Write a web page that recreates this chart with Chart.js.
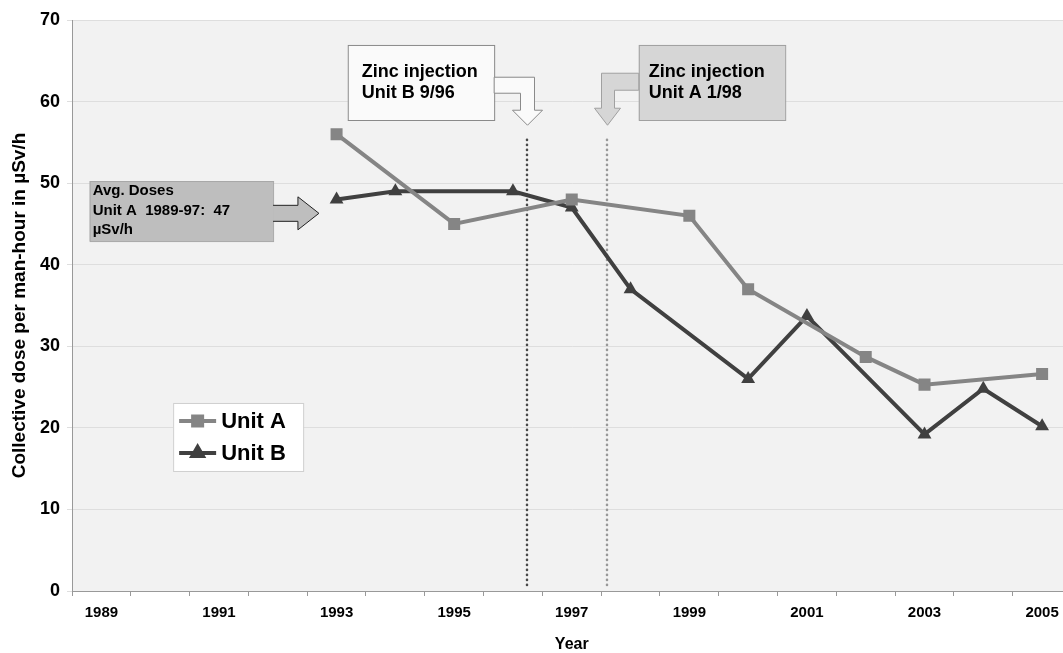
<!DOCTYPE html>
<html>
<head>
<meta charset="utf-8">
<script src="https://cdn.jsdelivr.net/npm/chart.js@4/dist/chart.umd.min.js"></script>
<style>
  html, body { margin: 0; padding: 0; background: #fff; overflow: hidden; width: 1063px; height: 653px; }
  canvas { display: block; }
</style>
</head>
<body>
<canvas id="c" width="1080" height="653"></canvas>
<script>
// data
var years = ['1989','1990','1991','1992','1993','1994','1995','1996','1997','1998','1999','2000','2001','2002','2003','2004','2005'];
var unitA = [null, null, null, null, 56, null, 45, null, 48, null, 46, 37, null, 28.7, 25.3, null, 26.6];
var unitB = [null, null, null, null, 48, 49, null, 49, 47, 37, null, 26, 33.7, null, 19.2, 24.8, 20.2];
var seriesNames = ['Unit A', 'Unit B'];
var shownYears = ['1989','1991','1993','1995','1997','1999','2001','2003','2005'];

// annotations (year / value units)
var zincYears = [1996.24, 1997.6];
var zincTexts = [['Zinc injection', 'Unit B 9/96'], ['Zinc injection', 'Unit A 1/98']];
var avgText = ['Avg. Doses', 'Unit A  1989-97:  47', 'µSv/h'];

var FONT = '"Liberation Sans", Arial, sans-serif';
var colA = '#858585', colB = '#404040';

function xAt(chart, yr) { return chart.scales.x.getPixelForValue(yr - 1989); }
function yAt(chart, v) { return chart.scales.y.getPixelForValue(v); }

var bgPlugin = {
  id: 'bg',
  beforeDraw: function (chart) {
    var a = chart.chartArea, ctx = chart.ctx;
    ctx.save();
    ctx.fillStyle = '#f2f2f2';
    ctx.fillRect(a.left, a.top, a.right - a.left, a.bottom - a.top);
    ctx.restore();
  },
  beforeDatasetsDraw: function (chart) {
    var ctx = chart.ctx, a = chart.chartArea;
    var cols = ['#4a4a4a', '#999999'];
    ctx.save();
    ctx.lineWidth = 2.6;
    ctx.lineCap = 'round';
    ctx.setLineDash([0, 5]);
    zincYears.forEach(function (yr, i) {
      var x = Math.round(xAt(chart, yr));
      ctx.strokeStyle = cols[i];
      ctx.beginPath();
      ctx.moveTo(x, yAt(chart, 55.3));
      ctx.lineTo(x, a.bottom - 2);
      ctx.stroke();
    });
    ctx.restore();
  }
};

function boxText(ctx, lines, x, y0, dy, size) {
  ctx.fillStyle = '#000';
  ctx.font = 'bold ' + size + 'px ' + FONT;
  ctx.textBaseline = 'middle';
  ctx.textAlign = 'left';
  lines.forEach(function (t, i) { ctx.fillText(t, x, y0 + i * dy); });
}

var notePlugin = {
  id: 'notes',
  afterDatasetsDraw: function (chart) {
    var ctx = chart.ctx;
    ctx.save();
    ctx.setLineDash([]);
    ctx.lineWidth = 1;

    // callout 1 (Unit B)
    var b1l = xAt(chart, 1993.19), b1r = xAt(chart, 1995.68);
    var bt = yAt(chart, 66.94), bb = yAt(chart, 57.74);
    var t1x = Math.round(xAt(chart, zincYears[0])) + 0.5, ty = yAt(chart, 57.1);
    ctx.fillStyle = '#fafafa';
    ctx.strokeStyle = '#8a8a8a';
    ctx.fillRect(b1l, bt, b1r - b1l, bb - bt);
    ctx.strokeRect(b1l + 0.5, bt + 0.5, b1r - b1l, bb - bt);
    ctx.beginPath();
    ctx.moveTo(b1r, ty - 48); ctx.lineTo(t1x + 7, ty - 48); ctx.lineTo(t1x + 7, ty - 15);
    ctx.lineTo(t1x + 15, ty - 15); ctx.lineTo(t1x, ty); ctx.lineTo(t1x - 15, ty - 15);
    ctx.lineTo(t1x - 7, ty - 15); ctx.lineTo(t1x - 7, ty - 32); ctx.lineTo(b1r, ty - 32);
    ctx.closePath();
    ctx.fill(); ctx.stroke();
    boxText(ctx, zincTexts[0], b1l + 14, bt + 27, 21, 18);

    // callout 2 (Unit A)
    var b2l = xAt(chart, 1998.14), b2r = xAt(chart, 2000.63);
    var t2x = Math.round(xAt(chart, zincYears[1])) + 0.5;
    ctx.fillStyle = '#d6d6d6';
    ctx.strokeStyle = '#a0a0a0';
    ctx.fillRect(b2l, bt, b2r - b2l, bb - bt);
    ctx.strokeRect(b2l + 0.5, bt + 0.5, b2r - b2l, bb - bt);
    ctx.beginPath();
    ctx.moveTo(b2l, ty - 52); ctx.lineTo(t2x - 6, ty - 52); ctx.lineTo(t2x - 6, ty - 17);
    ctx.lineTo(t2x - 13, ty - 17); ctx.lineTo(t2x, ty); ctx.lineTo(t2x + 13, ty - 17);
    ctx.lineTo(t2x + 7, ty - 17); ctx.lineTo(t2x + 7, ty - 35); ctx.lineTo(b2l, ty - 35);
    ctx.closePath();
    ctx.fill(); ctx.stroke();
    boxText(ctx, zincTexts[1], b2l + 10, bt + 27, 21, 18);

    // average box
    var al = xAt(chart, 1988.8), ar = xAt(chart, 1991.92);
    var at = yAt(chart, 50.26), ab = yAt(chart, 42.9);
    var tipX = xAt(chart, 1992.7), tipY = yAt(chart, 46.3);
    ctx.fillStyle = '#bebebe';
    ctx.strokeStyle = '#a8a8a8';
    ctx.fillRect(al, at, ar - al, ab - at);
    ctx.strokeRect(al + 0.5, at + 0.5, ar - al, ab - at);
    ctx.strokeStyle = '#222';
    ctx.beginPath();
    ctx.moveTo(ar, tipY - 8); ctx.lineTo(tipX - 21, tipY - 8); ctx.lineTo(tipX - 21, tipY - 16.5);
    ctx.lineTo(tipX, tipY); ctx.lineTo(tipX - 21, tipY + 16.5); ctx.lineTo(tipX - 21, tipY + 8);
    ctx.lineTo(ar, tipY + 8);
    ctx.fill(); ctx.stroke();
    boxText(ctx, avgText, al + 3, at + 10, 19.5, 15);

    // legend
    var ll = xAt(chart, 1990.22), lt = yAt(chart, 23.05);
    ctx.fillStyle = '#ffffff';
    ctx.strokeStyle = '#d0d0d0';
    ctx.fillRect(ll, lt, 130, 68);
    ctx.strokeRect(ll + 0.5, lt + 0.5, 130, 68);
    chart.data.datasets.forEach(function (ds, i) {
      var yy = lt + 18 + i * 32;
      ctx.strokeStyle = ds.borderColor;
      ctx.lineWidth = 4;
      ctx.beginPath(); ctx.moveTo(ll + 6, yy); ctx.lineTo(ll + 43, yy); ctx.stroke();
      Chart.helpers.drawPoint(ctx, { pointStyle: ds.pointStyle, radius: ds.pointRadius * 0.75, borderWidth: 1 }, ll + 24.5, yy);
      ctx.fillStyle = ds.borderColor;
      ctx.fill();
      ctx.fillStyle = '#000';
      ctx.font = 'bold 22px ' + FONT;
      ctx.textBaseline = 'middle';
      ctx.fillText(ds.label, ll + 48, yy + 1);
    });
    ctx.restore();
  }
};

new Chart(document.getElementById('c'), {
  type: 'line',
  data: {
    labels: years,
    datasets: [
      { label: seriesNames[0], data: unitA, borderColor: colA, backgroundColor: colA, borderWidth: 4,
        pointStyle: 'rect', pointRadius: 8.5, pointBorderWidth: 0, spanGaps: true, tension: 0 },
      { label: seriesNames[1], data: unitB, borderColor: colB, backgroundColor: colB, borderWidth: 4,
        pointStyle: 'triangle', pointRadius: 8, pointBorderWidth: 0, spanGaps: true, tension: 0 }
    ]
  },
  options: {
    responsive: false,
    animation: false,
    layout: { padding: { top: 20, right: 5.5, left: 0, bottom: 0 } },
    plugins: { legend: { display: false }, tooltip: { enabled: false } },
    scales: {
      x: {
        offset: true,
        grid: { drawOnChartArea: false, drawTicks: true, tickLength: 5, offset: true, color: '#999' },
        border: { color: '#999' },
        ticks: {
          autoSkip: false, maxRotation: 0, padding: 8, color: '#000',
          font: { family: FONT, size: 15, weight: 'bold' },
          callback: function (v, i) { return shownYears.indexOf(years[i]) >= 0 ? years[i] : ''; }
        },
        title: { display: true, text: 'Year', color: '#000', font: { family: FONT, size: 16, weight: 'bold', lineHeight: 1 }, padding: { top: 0, bottom: 0 } },
        afterFit: function (s) { s.height = 62; }
      },
      y: {
        min: 0, max: 70,
        grid: { color: '#dedede', tickLength: 5 },
        border: { color: '#999' },
        ticks: { stepSize: 10, padding: 7, color: '#000', font: { family: FONT, size: 18, weight: 'bold' } },
        title: { display: true, text: 'Collective dose per man-hour in µSv/h', color: '#000',
                 font: { family: FONT, size: 19, weight: 'bold', lineHeight: 1 }, padding: { top: 10, bottom: 0 } },
        afterFit: function (s) { s.width = 72; }
      }
    }
  },
  plugins: [bgPlugin, notePlugin]
});
</script>
</body>
</html>
